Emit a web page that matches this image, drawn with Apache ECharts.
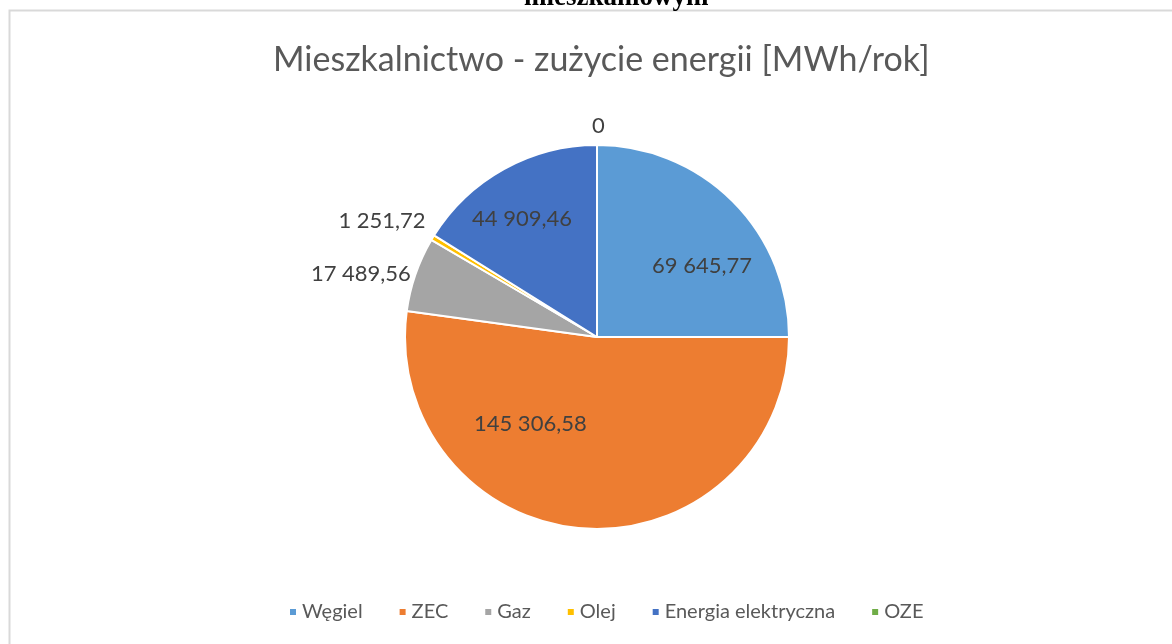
<!DOCTYPE html>
<html><head><meta charset="utf-8">
<script src="https://cdn.jsdelivr.net/npm/echarts@6/dist/echarts.min.js"></script>
<style>html,body{margin:0;padding:0;background:#fff;}#c{width:1172px;height:644px;}</style>
</head><body><div id="c"></div>
<script>
const categories = ['Węgiel', 'ZEC', 'Gaz', 'Olej', 'Energia elektryczna', 'OZE'];
const values = [69645.77, 145306.58, 17489.56, 1251.72, 44909.46, 0];
const colors = ['#5B9BD5', '#ED7D31', '#A5A5A5', '#FFC000', '#4472C4', '#70AD47'];
const insideLabel = [true, true, false, false, true, false];
const labelOffsets = [[35, -1], [-60, -12], [6, 2], [3, -14], [-27, -32], [-10, -13]];

function fmt(v) {
  if (v === 0) return '0';
  const parts = v.toFixed(2).split('.');
  const ip = parts[0].replace(/\B(?=(\d{3})+(?!\d))/g, ' ');
  return ip + ',' + parts[1];
}

const chart = echarts.init(document.getElementById('c'));
const font = 'Lato, "Open Sans", sans-serif';
chart.setOption({
  backgroundColor: '#fff',
  animation: false,
  title: {
    text: 'Mieszkalnictwo - zużycie energii [MWh/rok]',
    left: 268, top: 38,
    textStyle: { fontFamily: font, fontWeight: 'normal', fontSize: 34, color: '#595959' }
  },
  legend: {
    bottom: 17, left: 283,
    icon: 'rect', itemWidth: 8, itemHeight: 8, itemGap: 35,
    textStyle: { fontFamily: font, fontSize: 20, color: '#595959' },
    data: categories
  },
  graphic: [
    { type: 'rect', shape: { x: 9.5, y: 10.5, width: 1200, height: 700 },
      style: { fill: 'none', stroke: '#d9d9d9', lineWidth: 2 }, silent: true },
    { type: 'text', left: 524, top: -15,
      style: { text: 'mieszkaniowym', font: 'bold 27px "Liberation Serif", serif', fill: '#000' } }
  ],
  series: [{
    type: 'pie',
    center: [597, 337],
    radius: 192,
    startAngle: 90,
    clockwise: true,
    avoidLabelOverlap: false,
    itemStyle: { borderColor: '#fff', borderWidth: 2 },
    label: { fontFamily: font, fontSize: 22, color: '#404040', formatter: p => fmt(p.value) },
    labelLine: { show: false, length: 6, length2: 0 },
    data: categories.map((c, i) => ({
      name: c, value: values[i],
      itemStyle: { color: colors[i] },
      label: { position: insideLabel[i] ? 'inside' : 'outside', offset: labelOffsets[i] }
    }))
  }]
});
</script></body></html>
